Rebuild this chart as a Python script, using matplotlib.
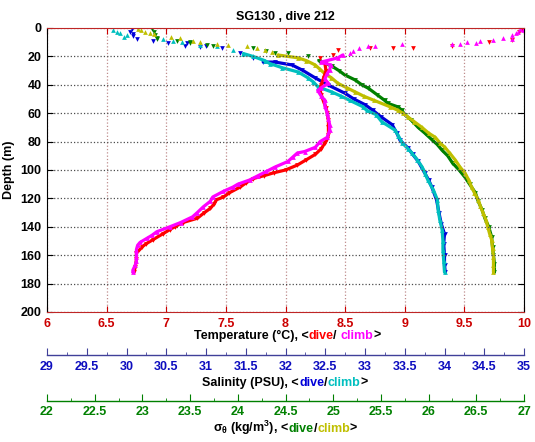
import matplotlib
matplotlib.use("Agg")
import matplotlib.pyplot as plt
import numpy as np
from matplotlib.offsetbox import HPacker, TextArea, AnnotationBbox

plt.rcParams['font.family'] = ['Liberation Sans', 'DejaVu Sans']
plt.rcParams['font.weight'] = 'bold'
plt.rcParams['font.size'] = 9

# ---- data (depth in m) ----
temp_climb_depth = [0.5, 1.5, 2.5, 3.5, 5, 7, 7.7, 8.5, 9, 10, 10.5, 11, 11.5, 11, 12.5, 13, 14, 16,
                    17.6, 19, 21, 24, 26, 29.6, 32, 36, 39, 42, 44, 48, 51, 55, 60, 64, 68, 72, 77,
                    80, 84, 87, 88, 91, 94, 98, 101, 104, 107, 110, 112, 115, 119, 122, 126, 130,
                    133, 137, 140, 143.5, 146, 148, 151, 153, 156, 161, 164, 167, 170.5, 172]
temp_climb = [9.97, 9.99, 9.95, 9.93, 9.9, 9.82, 9.9, 9.74, 9.63, 9.52, 9.6, 9.46, 9.4, 8.98, 8.75,
              8.69, 8.62, 8.57, 8.54, 8.48, 8.44, 8.3, 8.38, 8.37, 8.35, 8.33, 8.36, 8.3, 8.27, 8.3,
              8.33, 8.33, 8.35, 8.36, 8.37, 8.37, 8.35, 8.29, 8.25, 8.16, 8.1, 8.06, 8.02, 7.91,
              7.84, 7.77, 7.7, 7.6, 7.56, 7.48, 7.39, 7.37, 7.31, 7.26, 7.22, 7.12, 7.03, 6.92,
              6.88, 6.84, 6.78, 6.76, 6.75, 6.75, 6.75, 6.74, 6.72, 6.72]

temp_dive_depth = [1, 3, 8.5, 10, 12.7, 14, 14, 14, 15.5, 19, 21, 25, 30, 35, 40, 44, 47, 52, 56,
                   60, 65, 70, 75, 78, 81, 85, 89, 93, 96.5, 100, 102, 104, 106, 109, 112, 116,
                   119, 121, 124, 127, 130, 134, 137, 140, 142, 145, 149, 152, 154, 158.6, 163,
                   168, 172]
temp_dive = [9.98, 9.96, 9.9, 9.71, 9.4, 9.07, 8.9, 8.71, 8.44, 8.4, 8.29, 8.33, 8.34, 8.32, 8.3,
             8.29, 8.3, 8.32, 8.34, 8.35, 8.36, 8.36, 8.36, 8.35, 8.33, 8.3, 8.25, 8.17, 8.1, 8.0,
             7.9, 7.82, 7.73, 7.67, 7.62, 7.53, 7.48, 7.42, 7.4, 7.37, 7.32, 7.26, 7.14, 7.07,
             7.03, 6.97, 6.89, 6.83, 6.8, 6.75, 6.75, 6.74, 6.73]

salin_climb_depth = [1.4, 2.5, 3.5, 5, 6, 8, 9, 10, 12, 13, 15.5, 18, 20, 23, 25, 28, 31, 35, 38,
                     41.5, 45, 48, 51, 55.6, 58, 61, 66, 72, 76, 81, 85, 88, 93, 98, 103, 107,
                     114, 121, 128, 135, 142, 150, 156, 164, 172]
salin_climb = [29.83, 29.88, 29.92, 30.0, 29.97, 30.46, 30.58, 30.7, 30.92, 31.14, 31.34, 31.47,
               31.59, 31.74, 31.8, 31.96, 32.16, 32.28, 32.35, 32.41, 32.58, 32.7, 32.81, 32.98,
               33.02, 33.14, 33.21, 33.38, 33.42, 33.47, 33.54, 33.59, 33.66, 33.72, 33.76,
               33.79, 33.86, 33.91, 33.92, 33.94, 33.97, 33.98, 33.98, 33.99, 34.0]

salin_dive_depth = [1, 2.5, 4, 5.6, 8, 9, 10.6, 10.6, 12.7, 13, 13.4, 14, 17.6, 21, 24, 24, 26,
                    29.6, 35, 40, 46, 50, 54, 58, 62.5, 68, 74, 79, 84.5, 89, 94, 102, 107, 112,
                    121, 130, 138, 145, 152, 160, 167, 172]
salin_dive = [30.07, 30.05, 30.08, 30.08, 30.13, 30.33, 30.52, 30.76, 30.74, 31.0, 30.92, 31.2,
              31.43, 31.59, 31.72, 31.87, 32.08, 32.21, 32.37, 32.53, 32.75, 32.86, 33.0, 33.1,
              33.2, 33.34, 33.4, 33.44, 33.54, 33.6, 33.67, 33.75, 33.8, 33.84, 33.9, 33.93,
              33.96, 34.0, 33.99, 34.0, 34.0, 34.01]

sigma_climb_depth = [0.5, 1.5, 2.5, 3.5, 4.5, 6, 7, 9, 10, 11.5, 12, 13, 14, 15.5, 17, 19, 21, 23,
                     26, 29, 32, 35, 39, 42, 45, 48, 51, 55.6, 58, 60, 62.5, 66, 70, 74, 77, 81,
                     84, 88, 93, 98, 102, 107, 112, 116, 121, 125, 130, 135, 140, 145, 149, 155,
                     161, 167, 172]
sigma_climb = [22.95, 22.99, 23.03, 23.08, 23.12, 23.3, 23.39, 23.53, 23.6, 23.78, 23.9, 24.1,
               24.2, 24.29, 24.36, 24.42, 24.63, 24.72, 24.81, 24.86, 24.91, 24.98, 25.05, 25.14,
               25.23, 25.32, 25.43, 25.6, 25.68, 25.73, 25.78, 25.85, 25.93, 26.0, 26.07, 26.12,
               26.17, 26.22, 26.28, 26.33, 26.38, 26.42, 26.45, 26.48, 26.52, 26.54, 26.57,
               26.6, 26.62, 26.64, 26.66, 26.67, 26.68, 26.68, 26.68]

sigma_dive_depth = [1, 3, 5, 7, 8, 9, 10, 10.6, 12, 13, 14, 16, 17.6, 17.6, 20, 23, 27, 30, 33,
                    36.6, 40, 42.5, 47, 51, 53, 55.6, 58, 61, 65, 70, 74, 79, 82, 86, 90, 95, 100,
                    105, 110, 116, 122, 128, 134, 140, 147, 154, 160, 166, 172]
sigma_dive = [23.1, 23.12, 23.13, 23.15, 23.15, 23.36, 23.5, 23.5, 23.68, 23.74, 24.16, 24.3,
              24.39, 24.53, 24.74, 24.85, 24.99, 25.06, 25.12, 25.23, 25.3, 25.37, 25.46, 25.54,
              25.57, 25.68, 25.72, 25.75, 25.82, 25.89, 25.96, 26.04, 26.09, 26.14, 26.2, 26.25,
              26.32, 26.38, 26.43, 26.49, 26.52, 26.56, 26.59, 26.63, 26.66, 26.67, 26.68,
              26.69, 26.69]

temp_ticks = [6, 6.5, 7, 7.5, 8, 8.5, 9, 9.5, 10]
salin_ticks = [29, 29.5, 30, 30.5, 31, 31.5, 32, 32.5, 33, 33.5, 34, 34.5, 35]
sigma_ticks = [22, 22.5, 23, 23.5, 24, 24.5, 25, 25.5, 26, 26.5, 27]
depth_ticks = list(range(0, 201, 20))

RED = (1.0, 0.0, 0.0)
MAGENTA = (1.0, 0.0, 1.0)
BLUE = (0.0, 0.0, 0.85)
CYAN = (0.0, 0.75, 0.75)
GREEN = (0.0, 0.5, 0.0)
OLIVE = (0.75, 0.75, 0.0)

fig = plt.figure(figsize=(5.35, 4.42), dpi=100)
ax = fig.add_axes([47 / 535, 1 - 312 / 442, 477 / 535, 284 / 442])
ax_s = ax.twiny()
ax_g = ax.twiny()


def draw(a, depth, vals, color, marker, line_from):
    depth = np.asarray(depth, dtype=float)
    vals = np.asarray(vals, dtype=float)
    deep = depth >= line_from
    a.plot(vals[deep], depth[deep], '-', color=color, lw=2.3, solid_capstyle='round')
    a.plot(vals, depth, linestyle='none', marker=marker, color=color, ms=3.4, mew=0)


# sigma, salinity, then temperature on top; dives under climbs
draw(ax_g, sigma_dive_depth, sigma_dive, GREEN, 'v', 22)
draw(ax_g, sigma_climb_depth, sigma_climb, OLIVE, '^', 18)
draw(ax_s, salin_dive_depth, salin_dive, BLUE, 'v', 22)
draw(ax_s, salin_climb_depth, salin_climb, CYAN, '^', 18)
draw(ax, temp_dive_depth, temp_dive, RED, 'v', 22)
draw(ax, temp_climb_depth, temp_climb, MAGENTA, '^', 18)
ax.set_zorder(3)
ax.patch.set_visible(False)

# main (temperature) axes
ax.set_xlim(6, 10)
ax.set_ylim(200, 0)
ax.set_xticks(temp_ticks)
ax.set_xticklabels([f"{t:g}" for t in temp_ticks])
ax.set_yticks(depth_ticks)
ax.tick_params(axis='x', colors=(0.8, 0.0, 0.0), direction='in', top=True, length=4,
               labelsize=9, pad=4)
ax.tick_params(axis='y', colors='black', direction='in', right=True, length=4,
               labelsize=9, pad=4)
for side in ('top', 'bottom'):
    ax.spines[side].set_color((0.75, 0.15, 0.15))
ax.set_ylabel('Depth (m)', fontsize=9, fontweight='bold', labelpad=4)
ax.grid(True, axis='x', linestyle=':', color=(0.75, 0.55, 0.55), lw=0.9)
ax.grid(True, axis='y', linestyle=':', color=(0.3, 0.3, 0.3), lw=0.9)
ax.set_title('SG130 , dive 212', fontsize=9, fontweight='bold', pad=6)


def setup_extra(a, lim, ticks, offset, spine_color, label_color):
    a.set_xlim(*lim)
    a.set_ylim(200, 0)
    a.xaxis.set_ticks_position('bottom')
    a.xaxis.set_label_position('bottom')
    for side in ('top', 'left', 'right'):
        a.spines[side].set_visible(False)
    a.spines['bottom'].set_position(('outward', offset))
    a.spines['bottom'].set_color(spine_color)
    a.spines['bottom'].set_linewidth(1.0)
    a.set_xticks(ticks)
    a.set_xticklabels([f"{t:g}" for t in ticks])
    a.set_xticks(np.arange(lim[0], lim[1] + 0.01, 0.25), minor=True)
    a.tick_params(axis='x', which='major', direction='in', length=5, colors=spine_color,
                  labelcolor=label_color, labelsize=9, pad=4)
    a.tick_params(axis='x', which='minor', direction='in', length=2.5, colors=spine_color)
    a.tick_params(axis='y', left=False, right=False, labelleft=False, labelright=False)


setup_extra(ax_s, (29, 35), salin_ticks, 31, (0.25, 0.25, 0.6), (0.05, 0.05, 0.75))
setup_extra(ax_g, (22, 27), sigma_ticks, 64, GREEN, GREEN)


def colored_label(parts, xy):
    boxes = [TextArea(s, textprops=dict(color=c, fontsize=9, fontweight='bold'))
             for s, c in parts]
    pack = HPacker(children=boxes, pad=0, sep=0, align='baseline')
    ab = AnnotationBbox(pack, xy, xycoords='figure fraction', frameon=False,
                        box_alignment=(0.5, 0.5), pad=0)
    fig.add_artist(ab)


colored_label([('Temperature (\u00b0C), <', 'black'), ('dive', RED), ('/ ', 'black'),
               ('climb', MAGENTA), ('>', 'black')], (287 / 535, 1 - 336 / 442))
colored_label([('Salinity (PSU), <', 'black'), ('dive', BLUE), ('/', 'black'),
               ('climb', CYAN), ('>', 'black')], (285 / 535, 1 - 383 / 442))
colored_label([(r'$\mathregular{\sigma_\theta}$ (kg/m$\mathregular{^3}$), <', 'black'),
               ('dive', GREEN), ('/', 'black'), ('climb', OLIVE), ('>', 'black')],
              (285 / 535, 1 - 428 / 442))

fig.savefig('out.png', dpi=100)
